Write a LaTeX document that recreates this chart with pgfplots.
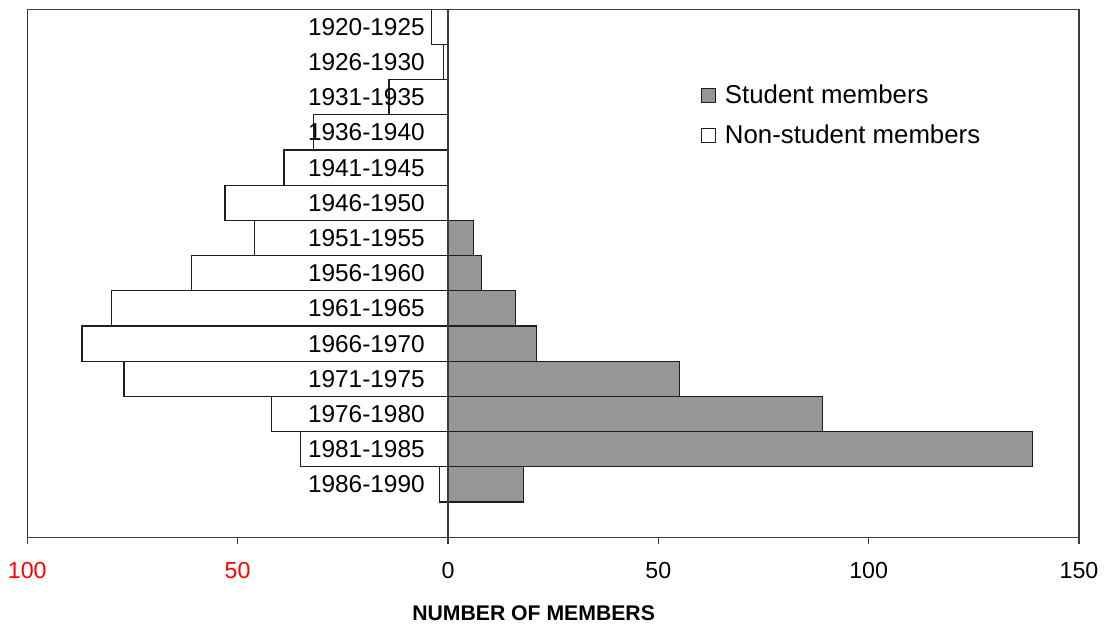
\documentclass[border=0pt]{standalone}
\usepackage{pgfplots}
\pgfplotsset{compat=1.18}
\usepackage{fontspec}
\setmainfont{Liberation Sans}
\definecolor{studgray}{RGB}{150,150,150}
\definecolor{edge}{RGB}{30,30,30}
\definecolor{frame}{RGB}{60,60,60}

\begin{document}
\begin{tikzpicture}
\path[use as bounding box] (-13.65pt,-43.35pt) rectangle (538.85pt,268.65pt);
\begin{axis}[
  at={(0pt,0pt)}, anchor=south west,
  scale only axis,
  width=525.85pt, height=264pt,
  xmin=-100, xmax=150,
  ymin=-0.5, ymax=14.5,
  axis line style={frame, line width=0.75pt},
  xtick={-100,-50,0,50,100,150},
  xticklabels={\textcolor{red}{100},\textcolor{red}{50},0,50,100,150},
  xtick pos=bottom,
  tick align=outside,
  major tick length=3.5pt,
  xtick style={frame, line width=0.75pt},
  xticklabel style={font=\fontsize{11.6}{13}\selectfont, yshift=-5.5pt},
  extra x ticks={0},
  extra x tick labels={},
  extra x tick style={grid=major, major grid style={frame, line width=0.75pt}, major tick length=0pt},
  ytick={1,...,14},
  yticklabels={1986-1990,1981-1985,1976-1980,1971-1975,1966-1970,1961-1965,1956-1960,1951-1955,1946-1950,1941-1945,1936-1940,1931-1935,1926-1930,1920-1925},
  ytick style={draw=none},
  yticklabel style={font=\fontsize{12.2}{13}\selectfont, anchor=east, inner sep=0pt, xshift=202.4pt},
  xlabel={\textbf{NUMBER OF MEMBERS}},
  xlabel style={font=\fontsize{10.6}{12}\selectfont, xshift=-9.75pt, yshift=-3pt},
  axis on top,
  legend style={at={(0.640,0.865)}, anchor=north west, draw=none, fill=none,
    font=\fontsize{12.9}{14}\selectfont, row sep=5pt, inner sep=0pt},
  legend cell align=left,
  legend image code/.code={\draw[#1] (0pt,-3.5pt) rectangle (7pt,3.5pt); \path (9.5pt,0pt);},
]
\addplot[xbar, bar width=1, bar shift=0pt, fill=studgray, draw=edge, line width=0.6pt]
  coordinates {(6,8) (8,7) (16,6) (21,5) (55,4) (89,3) (139,2) (18,1)};
\addlegendentry{Student members}
\addplot[xbar, bar width=1, bar shift=0pt, fill=white, draw=edge, line width=0.6pt]
  coordinates {(-4,14) (-1,13) (-14,12) (-32,11) (-39,10) (-53,9) (-46,8)
               (-61,7) (-80,6) (-87,5) (-77,4) (-42,3) (-35,2) (-2,1)};
\addlegendentry{Non-student members}
\end{axis}
\end{tikzpicture}
\end{document}
